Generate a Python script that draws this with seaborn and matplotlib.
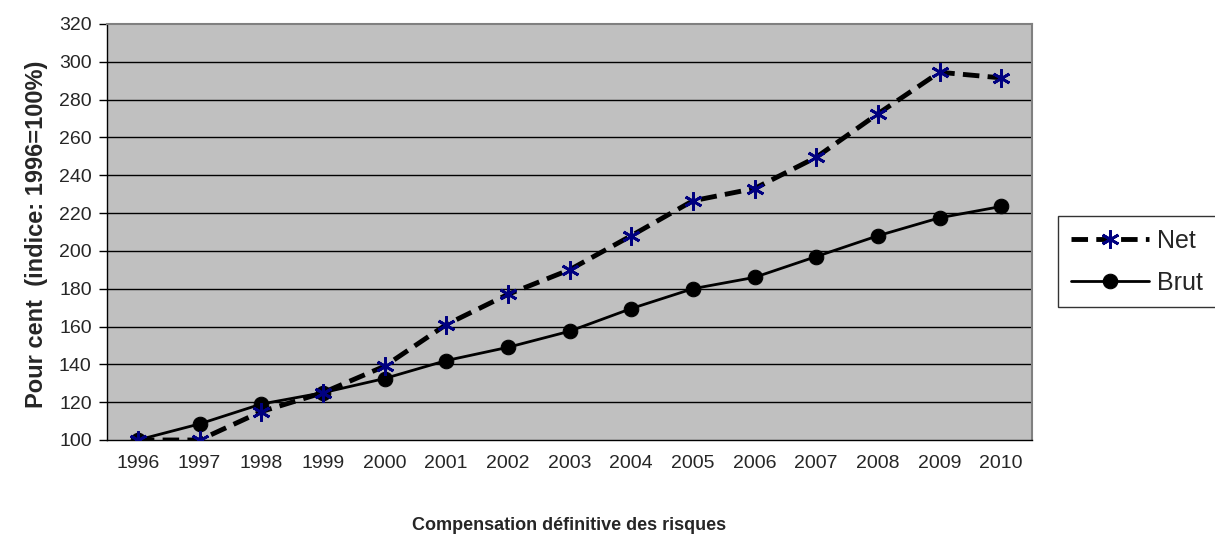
import matplotlib
matplotlib.use("Agg")
import matplotlib.pyplot as plt
import seaborn as sns
import pandas as pd
import numpy as np

years = ["1996", "1997", "1998", "1999", "2000", "2001", "2002", "2003",
         "2004", "2005", "2006", "2007", "2008", "2009", "2010"]
net = [100, 100, 115, 125, 139, 161, 177, 190, 208, 226.5, 233, 249.5, 272.5, 294.5, 291.5]
brut = [100, 108.5, 119, 125, 132.5, 142, 149, 157.5, 169.5, 180, 186, 197, 208, 217.5, 223.5]
y_ticks = list(range(100, 321, 20))

sns.set_theme(style="white")
plt.rcParams['font.family'] = ['Liberation Sans', 'DejaVu Sans']

fig = plt.figure(figsize=(12.15, 5.47), dpi=100)
ax = fig.add_axes([107/1215, 1 - 440/547, (1032-107)/1215, (440-24)/547])
ax.set_facecolor("#c0c0c0")

x = np.arange(len(years))
df = pd.DataFrame({"x": x, "Net": net, "Brut": brut})

sns.lineplot(data=df, x="x", y="Net", ax=ax, color="black", linewidth=3.5,
             linestyle=(0, (3.4, 1.7)), marker=(6, 2, 0), markersize=13,
             markeredgecolor="#000080", markerfacecolor="#000080",
             markeredgewidth=2.0, label="Net", zorder=4)
sns.lineplot(data=df, x="x", y="Brut", ax=ax, color="black", linewidth=2.0,
             marker="o", markersize=10.5, markeredgecolor="black",
             markerfacecolor="black", label="Brut", zorder=3)

ax.set_xlim(-0.5, len(years) - 0.5)
ax.set_ylim(100, 320)
ax.set_yticks(y_ticks)
ax.set_yticklabels([str(v) for v in y_ticks], fontsize=14)
ax.set_xticks(x)
ax.set_xticklabels(years, fontsize=14)
ax.tick_params(axis="x", length=0, pad=11)
ax.set_xticks(np.arange(-0.5, len(years), 1), minor=True)
ax.tick_params(axis="x", which="minor", length=6, width=1, color="black", direction="out")
ax.tick_params(axis="y", length=6, width=1, color="black", direction="out", pad=5, left=True)

ax.grid(False)
for v in y_ticks[1:-1]:
    ax.axhline(v, color="black", linewidth=1.0, zorder=1)

for side in ["left", "bottom"]:
    ax.spines[side].set_color("black")
    ax.spines[side].set_linewidth(1.0)
for side in ["top", "right"]:
    ax.spines[side].set_color("#808080")
    ax.spines[side].set_linewidth(1.5)

ax.set_xlabel("")
ax.set_ylabel("")
fig.text(37/1215, 1 - 234/547, "Pour cent  (indice: 1996=100%)", rotation=90,
         ha="center", va="center", fontsize=17, fontweight="bold")
fig.text(569.5/1215, 1 - 525/547, "Compensation définitive des risques",
         ha="center", va="center", fontsize=13, fontweight="bold")

ax.get_legend().remove()
handles, labels = ax.get_legend_handles_labels()
leg = fig.legend(handles, labels, loc="lower left",
                 bbox_to_anchor=(1058/1215, 1 - 307/547, 0.14, 92/547),
                 mode="expand", borderaxespad=0, frameon=True, fancybox=False,
                 fontsize=18, handlelength=3.15, handletextpad=0.32,
                 labelspacing=0.72, borderpad=0.5)
leg.get_frame().set_edgecolor("black")
leg.get_frame().set_linewidth(1.0)

fig.savefig("out.png", dpi=100)
